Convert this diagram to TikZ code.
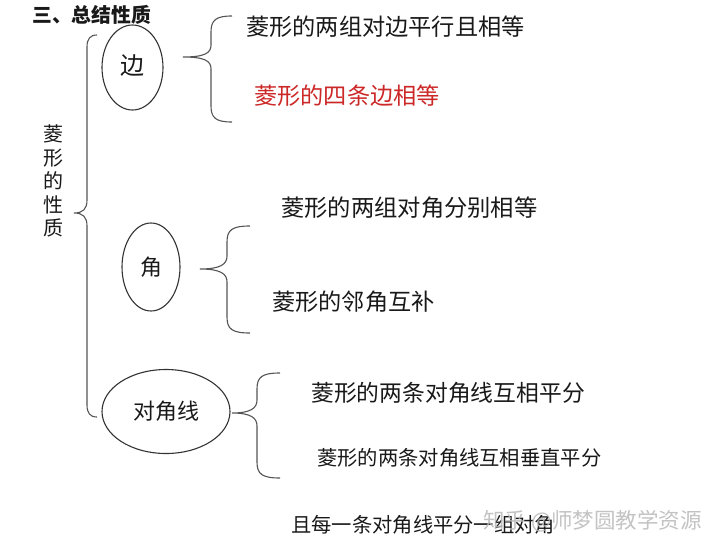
\documentclass[tikz,border=0pt]{standalone}
\usepackage{fontspec}
\newfontfamily\cjk{Noto Sans CJK SC}
\usetikzlibrary{shapes.geometric}
\definecolor{txt}{RGB}{25,25,25}
\definecolor{redtxt}{RGB}{205,40,40}
\definecolor{linec}{RGB}{85,85,85}
\definecolor{wm}{RGB}{185,185,185}
\tikzset{
  brace/.style={draw=linec, line width=1.1pt},
  oval/.style={ellipse, draw=black!80, line width=1.1pt, inner sep=0pt, text=txt},
  item/.style={anchor=west, inner sep=0pt, text=txt},
  fs/.style={font=\cjk\fontsize{#1}{#1}\selectfont}
}
\begin{document}
\begin{tikzpicture}[x=1pt,y=-1pt]
\useasboundingbox (0,0) rectangle (720,549);
\fill[white] (0,0) rectangle (720,549);

% title
\node[item, font=\cjk\bfseries\fontsize{19.8}{19.8}\selectfont] (title) at (32,15) {三、总结性质};

% vertical label
\node[inner sep=0pt, text=txt, align=center, font=\cjk\fontsize{20}{23.5}\selectfont] (lbl) at (53,181) {菱\\形\\的\\性\\质};

% left big brace
\draw[brace] (97,35) .. controls (90,35) and (87,39) .. (87,47) -- (87,200)
  .. controls (87,209) and (83,213) .. (74,213)
  .. controls (83,213) and (87,217) .. (87,226) -- (87,405)
  .. controls (87,413) and (90,417) .. (97,417);

% ovals
\node[oval, minimum width=61pt, minimum height=85pt, fs=24] (bian) at (132.5,67.5) {\raisebox{5pt}{边}};
\node[oval, minimum width=58pt, minimum height=88pt, fs=22] (jiao) at (151,267) {角};
\node[oval, minimum width=128pt, minimum height=84pt, fs=22] (djx) at (166,411.5) {对角线};

% brace 1
\draw[brace] (232,16) .. controls (216,16) and (211,20) .. (211,32) -- (211,45)
  .. controls (211,53) and (205,57) .. (183,57)
  .. controls (205,57) and (211,61) .. (211,69) -- (211,106)
  .. controls (211,118) and (216,122) .. (232,122);
% brace 2
\draw[brace] (250,226) .. controls (232,226) and (227,230) .. (227,242) -- (227,256)
  .. controls (227,264) and (221,269) .. (200,269)
  .. controls (221,269) and (227,274) .. (227,282) -- (227,317)
  .. controls (227,329) and (232,333) .. (250,333);
% brace 3
\draw[brace] (280,373) .. controls (262,373) and (257,377) .. (257,389) -- (257,400)
  .. controls (257,408) and (251,413) .. (232,413)
  .. controls (251,413) and (257,418) .. (257,426) -- (257,462)
  .. controls (257,474) and (262,478) .. (280,478);

% items
\node[item, fs=23.2] (t1) at (246,27) {菱形的两组对边平行且相等};
\node[item, fs=23.2, text=redtxt] (t2) at (254,96) {菱形的四条边相等};
\node[item, fs=23.3] (t3) at (281,208) {菱形的两组对角分别相等};
\node[item, fs=23.2] (t4) at (272,302) {菱形的邻角互补};
\node[item, fs=22.8] (t5) at (311,393) {菱形的两条对角线互相平分};
\node[item, fs=20.3] (t6) at (317,458) {菱形的两条对角线互相垂直平分};
\node[item, fs=20.3] (t7) at (291,525) {且每一条对角线平分一组对角};

% watermark (overlaps the last line, as in the reference)
\node[anchor=west, inner sep=0pt, text=wm, opacity=0.85, fs=21.5] (wmk) at (483,521) {知乎 @师梦圆教学资源};
\end{tikzpicture}
\end{document}
